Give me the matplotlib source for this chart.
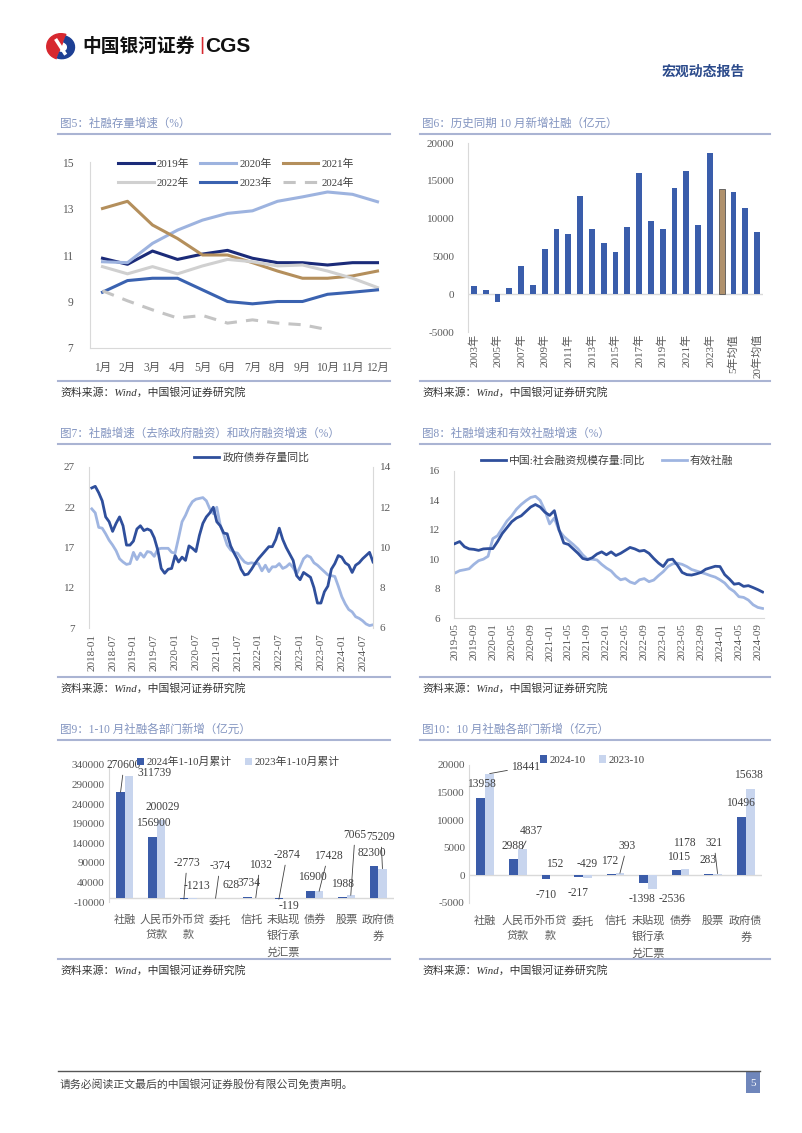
import matplotlib
matplotlib.use('Agg')
import matplotlib.pyplot as plt
from matplotlib.lines import Line2D
from matplotlib.patches import Rectangle, Wedge
import numpy as np

plt.rcParams['font.family'] = ['Liberation Serif', 'Noto Sans CJK SC', 'DejaVu Sans']
plt.rcParams['axes.unicode_minus'] = False

# ---- data ----
# 图5 社融存量增速
months5 = ['1月', '2月', '3月', '4月', '5月', '6月', '7月', '8月', '9月', '10月', '11月', '12月']
growth_2019 = [10.86, 10.6, 11.17, 10.81, 11.04, 11.2, 10.86, 10.67, 10.67, 10.57, 10.67, 10.67]
growth_2020 = [10.71, 10.67, 11.5, 12.07, 12.5, 12.79, 12.9, 13.31, 13.5, 13.71, 13.61, 13.29]
growth_2021 = [13.0, 13.31, 12.29, 11.71, 11.0, 11.0, 10.67, 10.31, 10.0, 10.0, 10.1, 10.31]
growth_2022 = [10.5, 10.19, 10.5, 10.19, 10.53, 10.81, 10.71, 10.53, 10.57, 10.31, 10.0, 9.6]
growth_2023 = [9.4, 9.9, 10.0, 10.0, 9.5, 9.0, 8.9, 9.0, 9.0, 9.31, 9.4, 9.5]
growth_2024 = [9.46, 9.03, 8.64, 8.29, 8.4, 8.07, 8.21, 8.07, 8.0, 7.79]

# 图6 历史同期10月新增社融
cats6 = ['2003年', '2004年', '2005年', '2006年', '2007年', '2008年', '2009年', '2010年',
         '2011年', '2012年', '2013年', '2014年', '2015年', '2016年', '2017年', '2018年',
         '2019年', '2020年', '2021年', '2022年', '2023年', '2024年',
         '5年均值', '10年均值', '20年均值']
oct_new = [1150, 490, -1060, 840, 3680, 1240, 6030, 8650, 7940, 13000, 8690, 6830, 5590,
           8910, 16010, 9620, 8690, 14060, 16320, 9140, 18630, 13958, 13480, 11400, 8200]

# 图7 monthly 2018-01 .. 2024-10
ticks7 = ['2018-01', '2018-07', '2019-01', '2019-07', '2020-01', '2020-07', '2021-01',
          '2021-07', '2022-01', '2022-07', '2023-01', '2023-07', '2024-01', '2024-07']
gov_bond = [24.4, 24.6, 23.8, 22.8, 20.8, 20.2, 19.0, 20.0, 20.8, 19.7, 17.3, 17.3,
            17.8, 19.3, 19.7, 19.1, 19.3, 19.1, 18.2, 16.7, 14.4, 13.8, 14.3, 14.4,
            16.0, 15.2, 15.8, 15.4, 17.2, 16.9, 16.5, 18.5, 20.0, 20.8, 21.3, 22.0,
            20.2, 19.7, 18.8, 18.7, 17.2, 16.3, 15.5, 14.3, 13.6, 13.7, 14.3, 15.0,
            15.6, 16.1, 16.6, 17.1, 17.1, 18.0, 19.4, 18.0, 17.0, 16.2, 15.4, 13.5,
            13.0, 13.9, 13.6, 13.3, 12.0, 10.1, 10.1, 11.5, 12.2, 14.3, 15.0, 16.0,
            15.8, 15.1, 14.8, 13.9, 14.8, 15.1, 15.6, 16.0, 16.4, 15.2]
sf_ex_gov = [11.92, 11.72, 11.0, 10.96, 10.68, 10.36, 10.12, 9.84, 9.44, 9.28, 9.16, 9.2,
             9.76, 9.4, 9.72, 9.52, 9.8, 9.76, 9.56, 9.92, 9.96, 9.96, 9.96, 9.76,
             9.72, 10.48, 11.28, 11.6, 12.0, 12.28, 12.4, 12.44, 12.48, 12.32, 11.92, 11.68,
             12.0, 11.12, 10.64, 10.12, 9.88, 9.76, 9.72, 9.48, 9.28, 9.2, 9.24, 9.2,
             9.2, 8.84, 9.12, 8.8, 9.04, 9.04, 9.2, 8.96, 9.04, 9.2, 9.0, 8.68,
             9.04, 9.44, 9.6, 9.52, 9.24, 9.12, 8.96, 8.8, 8.64, 8.6, 8.56, 8.08,
             7.56, 7.2, 6.92, 6.8, 6.56, 6.48, 6.36, 6.2, 6.12, 6.16]

# 图8 monthly 2019-05 .. 2024-10
ticks8 = ['2019-05', '2019-09', '2020-01', '2020-05', '2020-09', '2021-01', '2021-05',
          '2021-09', '2022-01', '2022-05', '2022-09', '2023-01', '2023-05', '2023-09',
          '2024-01', '2024-05', '2024-09']
sf_yoy = [11.06, 11.2, 10.85, 10.7, 10.67, 10.6, 10.7, 10.72,
          10.72, 11.2, 11.75, 12.15, 12.55, 12.8, 12.95, 13.25, 13.55, 13.72, 13.55, 13.2,
          12.98, 13.3, 12.0, 11.1, 11.0, 10.7, 10.4, 10.05, 9.97, 10.1, 10.35, 10.5,
          10.3, 10.5, 10.25, 10.4, 10.6, 10.8, 10.7, 10.55, 10.6, 10.4, 10.05, 9.74,
          9.5, 9.95, 10.0, 9.6, 9.1, 8.95, 8.92, 9.0, 9.1, 9.32, 9.42, 9.52,
          9.5, 8.95, 8.65, 8.3, 8.35, 8.15, 8.2, 8.07, 7.93, 7.77]
effective_sf = [9.06, 9.22, 9.28, 9.35, 9.65, 9.9, 10.0, 10.2,
                11.4, 11.6, 12.1, 12.6, 12.95, 13.4, 13.72, 13.98, 14.2, 14.28, 14.0, 13.32,
                12.4, 12.8, 11.95, 11.55, 11.27, 11.0, 10.7, 10.3, 10.0, 10.0, 9.95, 9.65,
                9.4, 9.2, 8.85, 8.6, 8.68, 8.45, 8.34, 8.6, 8.68, 8.47, 8.58, 8.88,
                9.15, 9.5, 9.68, 9.73, 9.65, 9.5, 9.3, 9.2, 9.1, 9.0, 8.88, 8.78,
                8.6, 8.38, 8.02, 7.8, 7.45, 7.4, 7.22, 6.9, 6.72, 6.65]

# 图9 / 图10 分部门
sectors = ['社融', '人民币\n贷款', '外币贷\n款', '委托', '信托', '未贴现\n银行承\n兑汇票',
           '债券', '股票', '政府债\n券']
ytd_2024 = [270600, 156900, -2773, -374, 3734, -2874, 16900, 1988, 82300]
ytd_2023 = [311739, 200029, -1213, 628, 1032, -119, 17428, 7065, 75209]
oct_2024 = [13958, 2988, -710, -217, 172, -1398, 1015, 283, 10496]
oct_2023 = [18441, 4837, 152, -429, 393, -2536, 1178, 321, 15638]

# ---- page helpers ----
W, H = 802, 1133
fig = plt.figure(figsize=(W / 100, H / 100), dpi=100)


def box(x0, y0, x1, y1):
    return [x0 / W, 1 - y1 / H, (x1 - x0) / W, (y1 - y0) / H]


def ftext(x, y, s, **kw):
    fig.text(x / W, 1 - y / H, s, **kw)


def hline(x0, x1, y, color='#aab4d3', lw=1.5):
    fig.add_artist(Line2D([x0 / W, x1 / W], [1 - y / H, 1 - y / H], color=color, lw=lw))


TICK = '#595959'
GRID = '#d9d9d9'
TITLE = '#8294c0'
DARK = '#2f4f9c'
LIGHT = '#9fb5e1'
SRC = '资料来源：Wind，中国银河证券研究院'


def style(ax, spines=('left', 'bottom'), size=8):
    for s in ['left', 'right', 'top', 'bottom']:
        ax.spines[s].set_visible(s in spines)
        ax.spines[s].set_color(GRID)
    ax.tick_params(length=0, labelsize=size, colors=TICK, pad=4)
    ax.set_facecolor('none')


def panel(x0, x1, ytitle, yline, ysrc, title):
    ftext(x0 + 2, ytitle, title, fontsize=8.3, color=TITLE, va='center')
    hline(x0, x1, yline)
    hline(x0, x1, ysrc - 11)
    ftext(x0 + 2, ysrc, SRC, fontsize=7.8, color='#333333', va='center', style='italic')


# ---- header ----
logo = fig.add_axes(box(46, 33, 76, 60))
logo.set_xlim(-1, 1)
logo.set_ylim(-1, 1)
logo.axis('off')
logo.add_patch(Wedge((0, 0), 0.95, 70, 250, color='#d7282f'))
logo.add_patch(Wedge((0.05, -0.05), 0.85, 250, 430, width=0.45, color='#1d3f94'))
logo.plot([-0.3, 0.25], [0.45, -0.5], color='white', lw=2.5)
ftext(82, 46, '中国银河证券', fontsize=13.5, fontweight='bold', va='center',
      family=['Noto Sans CJK SC'], color='#111111')
ftext(199, 46, '|', fontsize=14, va='center', color='#d7282f', family=['Liberation Sans'])
ftext(205, 46, 'CGS', fontsize=15, fontweight='bold', va='center',
      family=['Liberation Sans'], color='#111111')
ftext(745, 72, '宏观动态报告', fontsize=10, fontweight='bold', va='center', ha='right',
      family=['Noto Sans CJK SC'], color='#2b4a8b')

# ---- panel frames ----
panel(58, 390, 124, 134, 392, '图5：社融存量增速（%）')
panel(420, 770, 124, 134, 392, '图6：历史同期 10 月新增社融（亿元）')
panel(58, 390, 434, 444, 688, '图7：社融增速（去除政府融资）和政府融资增速（%）')
panel(420, 770, 434, 444, 688, '图8：社融增速和有效社融增速（%）')
panel(58, 390, 730, 740, 970, '图9：1-10 月社融各部门新增（亿元）')
panel(420, 770, 730, 740, 970, '图10：10 月社融各部门新增（亿元）')

# ---- 图5 ----
ax5 = fig.add_axes(box(90, 162, 390, 348))
series5 = [(growth_2019, '#1b2b79', '-', '2019年'), (growth_2020, '#9db3df', '-', '2020年'),
           (growth_2021, '#b48f5c', '-', '2021年'), (growth_2022, '#d0d0d0', '-', '2022年'),
           (growth_2023, '#3a62b0', '-', '2023年'), (growth_2024, '#c4c4c4', (0, (4, 3)), '2024年')]
for vals, col, ls, lab in series5:
    ax5.plot(np.arange(len(vals)), vals, color=col, lw=2.2, ls=ls, label=lab)
ax5.set_xlim(-0.5, 11.5)
ax5.set_ylim(7, 15)
ax5.set_yticks([7, 9, 11, 13, 15])
ax5.set_xticks(np.arange(12))
ax5.set_xticklabels(months5)
style(ax5, size=8.3)
ax5.tick_params(axis='x', pad=10)
ax5.tick_params(axis='y', pad=12)
h5, l5 = ax5.get_legend_handles_labels()
order5 = [0, 3, 1, 4, 2, 5]  # row-wise layout with ncol=3
ax5.legend([h5[i] for i in order5], [l5[i] for i in order5], ncol=3, loc='upper center',
           bbox_to_anchor=(236 / W, 1 - 149 / H), bbox_transform=fig.transFigure,
           frameon=False, fontsize=7.8, handlelength=3.3, columnspacing=1.0,
           handletextpad=0.3, labelspacing=0.8, labelcolor='#404040')

# ---- 图6 ----
ax6 = fig.add_axes(box(468, 143, 763, 332))
x6 = np.arange(len(cats6))
bars6 = ax6.bar(x6, oct_new, width=0.5, color='#3a5dab', zorder=2)
hl = cats6.index('2024年')
bars6[hl].set_facecolor('#b0916c')
bars6[hl].set_edgecolor('#555555')
bars6[hl].set_linewidth(0.6)
ax6.axhline(0, color=GRID, lw=1, zorder=1)
ax6.set_xlim(-0.5, len(cats6) - 0.5)
ax6.set_ylim(-5000, 20000)
ax6.set_yticks(np.arange(-5000, 20001, 5000))
ax6.set_xticks(x6[::2])
ax6.set_xticklabels(cats6[::2], rotation=90, fontsize=6.8)
style(ax6, spines=('left',))
ax6.tick_params(axis='x', pad=1.5)
ax6.tick_params(axis='y', pad=10)

# ---- 图7 ----
ax7 = fig.add_axes(box(89, 467, 373, 628))
m7 = np.arange(len(gov_bond))
ax7.plot(m7, gov_bond, color=DARK, lw=2, label='政府债券存量同比', zorder=3)
ax7.set_xlim(-0.8, 81.0)
ax7.set_ylim(7, 27)
ax7.set_yticks([7, 12, 17, 22, 27])
ax7.set_xticks(np.arange(0, len(gov_bond), 6))
ax7.set_xticklabels(ticks7, rotation=90, fontsize=7.3)
style(ax7, spines=('left',))
ax7.tick_params(axis='y', pad=10)
ax7r = ax7.twinx()
ax7r.plot(np.arange(len(sf_ex_gov)), sf_ex_gov, color=LIGHT, lw=2, zorder=2)
ax7r.set_ylim(6, 14)
ax7r.set_yticks([6, 8, 10, 12, 14])
style(ax7r, spines=('right',))
ax7r.tick_params(axis='y', pad=5)
ax7.set_zorder(ax7r.get_zorder() + 1)
ax7.legend(loc='center', bbox_to_anchor=(252 / W, 1 - 458 / H), bbox_transform=fig.transFigure,
           frameon=False, fontsize=7.8, handlelength=2.3, handletextpad=0.3, labelcolor='#404040')

# ---- 图8 ----
ax8 = fig.add_axes(box(454, 471, 764, 618))
ax8.plot(np.arange(len(effective_sf)), effective_sf, color=LIGHT, lw=2, zorder=2, label='有效社融')
ax8.plot(np.arange(len(sf_yoy)), sf_yoy, color=DARK, lw=2, zorder=3, label='中国:社会融资规模存量:同比')
ax8.set_xlim(-0.2, 65.3)
ax8.set_ylim(6, 16)
ax8.set_yticks(np.arange(6, 17, 2))
ax8.set_xticks(np.arange(0, len(sf_yoy), 4))
ax8.set_xticklabels(ticks8, rotation=90, fontsize=7.3)
style(ax8)
ax8.tick_params(axis='y', pad=10)
h8, l8 = ax8.get_legend_handles_labels()
ax8.legend(h8[::-1], l8[::-1], ncol=2, loc='center', bbox_to_anchor=(607 / W, 1 - 461 / H),
           bbox_transform=fig.transFigure, frameon=False, fontsize=7.8, handlelength=2.3,
           handletextpad=0.3, columnspacing=1.5, labelcolor='#404040')


# ---- 图9 / 图10 ----
def label(ax, xv, yv, px, py, line):
    ax.annotate(f'{yv}', xy=(xv, yv), xytext=(px, H - py), textcoords='figure pixels',
                ha='center', va='center', fontsize=8.3, color='#404040', annotation_clip=False,
                arrowprops=dict(arrowstyle='-', color='#404040', lw=0.6, shrinkA=1, shrinkB=0)
                if line else None)


def sector_chart(rect, ylo, yhi, step, dark, light, names, dark_pos, light_pos, legpos):
    ax = fig.add_axes(box(*rect))
    xs = np.arange(len(sectors))
    w = 0.27
    ax.bar(xs - w / 2, dark, width=w, color='#3b5ca9', label=names[0], zorder=2)
    ax.bar(xs + w / 2, light, width=w, color='#c8d5ee', label=names[1], zorder=2)
    ax.axhline(0, color=GRID, lw=1, zorder=1)
    ax.set_xlim(-0.5, len(sectors) - 0.5)
    ax.set_ylim(ylo, yhi)
    ax.set_yticks(np.arange(ylo, yhi + 1, step))
    ax.set_xticks(xs)
    ax.set_xticklabels(sectors, fontsize=7.8, linespacing=1.65, va='top')
    style(ax, spines=('left',))
    ax.tick_params(axis='x', pad=9)
    ax.tick_params(axis='y', pad=3)
    for i, (px, py, ln) in enumerate(dark_pos):
        label(ax, xs[i] - w / 2, dark[i], px, py, ln)
    for i, (px, py, ln) in enumerate(light_pos):
        label(ax, xs[i] + w / 2, light[i], px, py, ln)
    ax.legend(ncol=2, loc='center', bbox_to_anchor=(legpos[0] / W, 1 - legpos[1] / H),
              bbox_transform=fig.transFigure, frameon=False, fontsize=7.8, handlelength=0.7,
              handleheight=0.7, handletextpad=0.2, columnspacing=1.2, labelcolor='#404040')
    return ax


pos9_dark = [(124, 765, True), (153, 823, False), (187, 863, True), (220, 866, True),
             (249, 883, False), (287, 855, True), (312, 877, False), (343, 884, False),
             (372, 853, False)]
pos9_light = [(155, 773, False), (163, 807, False), (197, 886, False), (231, 885, False),
              (260, 865, True), (289, 906, False), (328, 856, True), (355, 835, True),
              (381, 837, True)]
sector_chart((109, 765, 394, 902), -10000, 340000, 50000, ytd_2024, ytd_2023,
             ['2024年1-10月累计', '2023年1-10月累计'], pos9_dark, pos9_light, (238, 762))

pos10_dark = [(481, 784, False), (513, 846, False), (546, 895, False), (578, 893, False),
              (610, 861, False), (642, 899, False), (679, 857, False), (708, 860, False),
              (740, 803, False)]
pos10_light = [(526, 767, True), (531, 831, True), (555, 864, False), (587, 864, False),
               (627, 846, True), (672, 899, False), (684, 843, False), (714, 843, True),
               (748, 775, False)]
sector_chart((469, 765, 762, 903), -5000, 20000, 5000, oct_2024, oct_2023,
             ['2024-10', '2023-10'], pos10_dark, pos10_light, (592, 760))

# ---- footer ----
hline(58, 760, 1071, color='#555555', lw=1)
ftext(60, 1084, '请务必阅读正文最后的中国银河证券股份有限公司免责声明。', fontsize=7.8,
      color='#444444', va='center')
fig.add_artist(Rectangle((746 / W, 1 - 1093 / H), 14 / W, 22 / H, transform=fig.transFigure,
                         facecolor='#6f86bb', edgecolor='none'))
ftext(753, 1083, '5', fontsize=8, color='white', ha='center', va='center')

fig.savefig('out.png', dpi=100)
